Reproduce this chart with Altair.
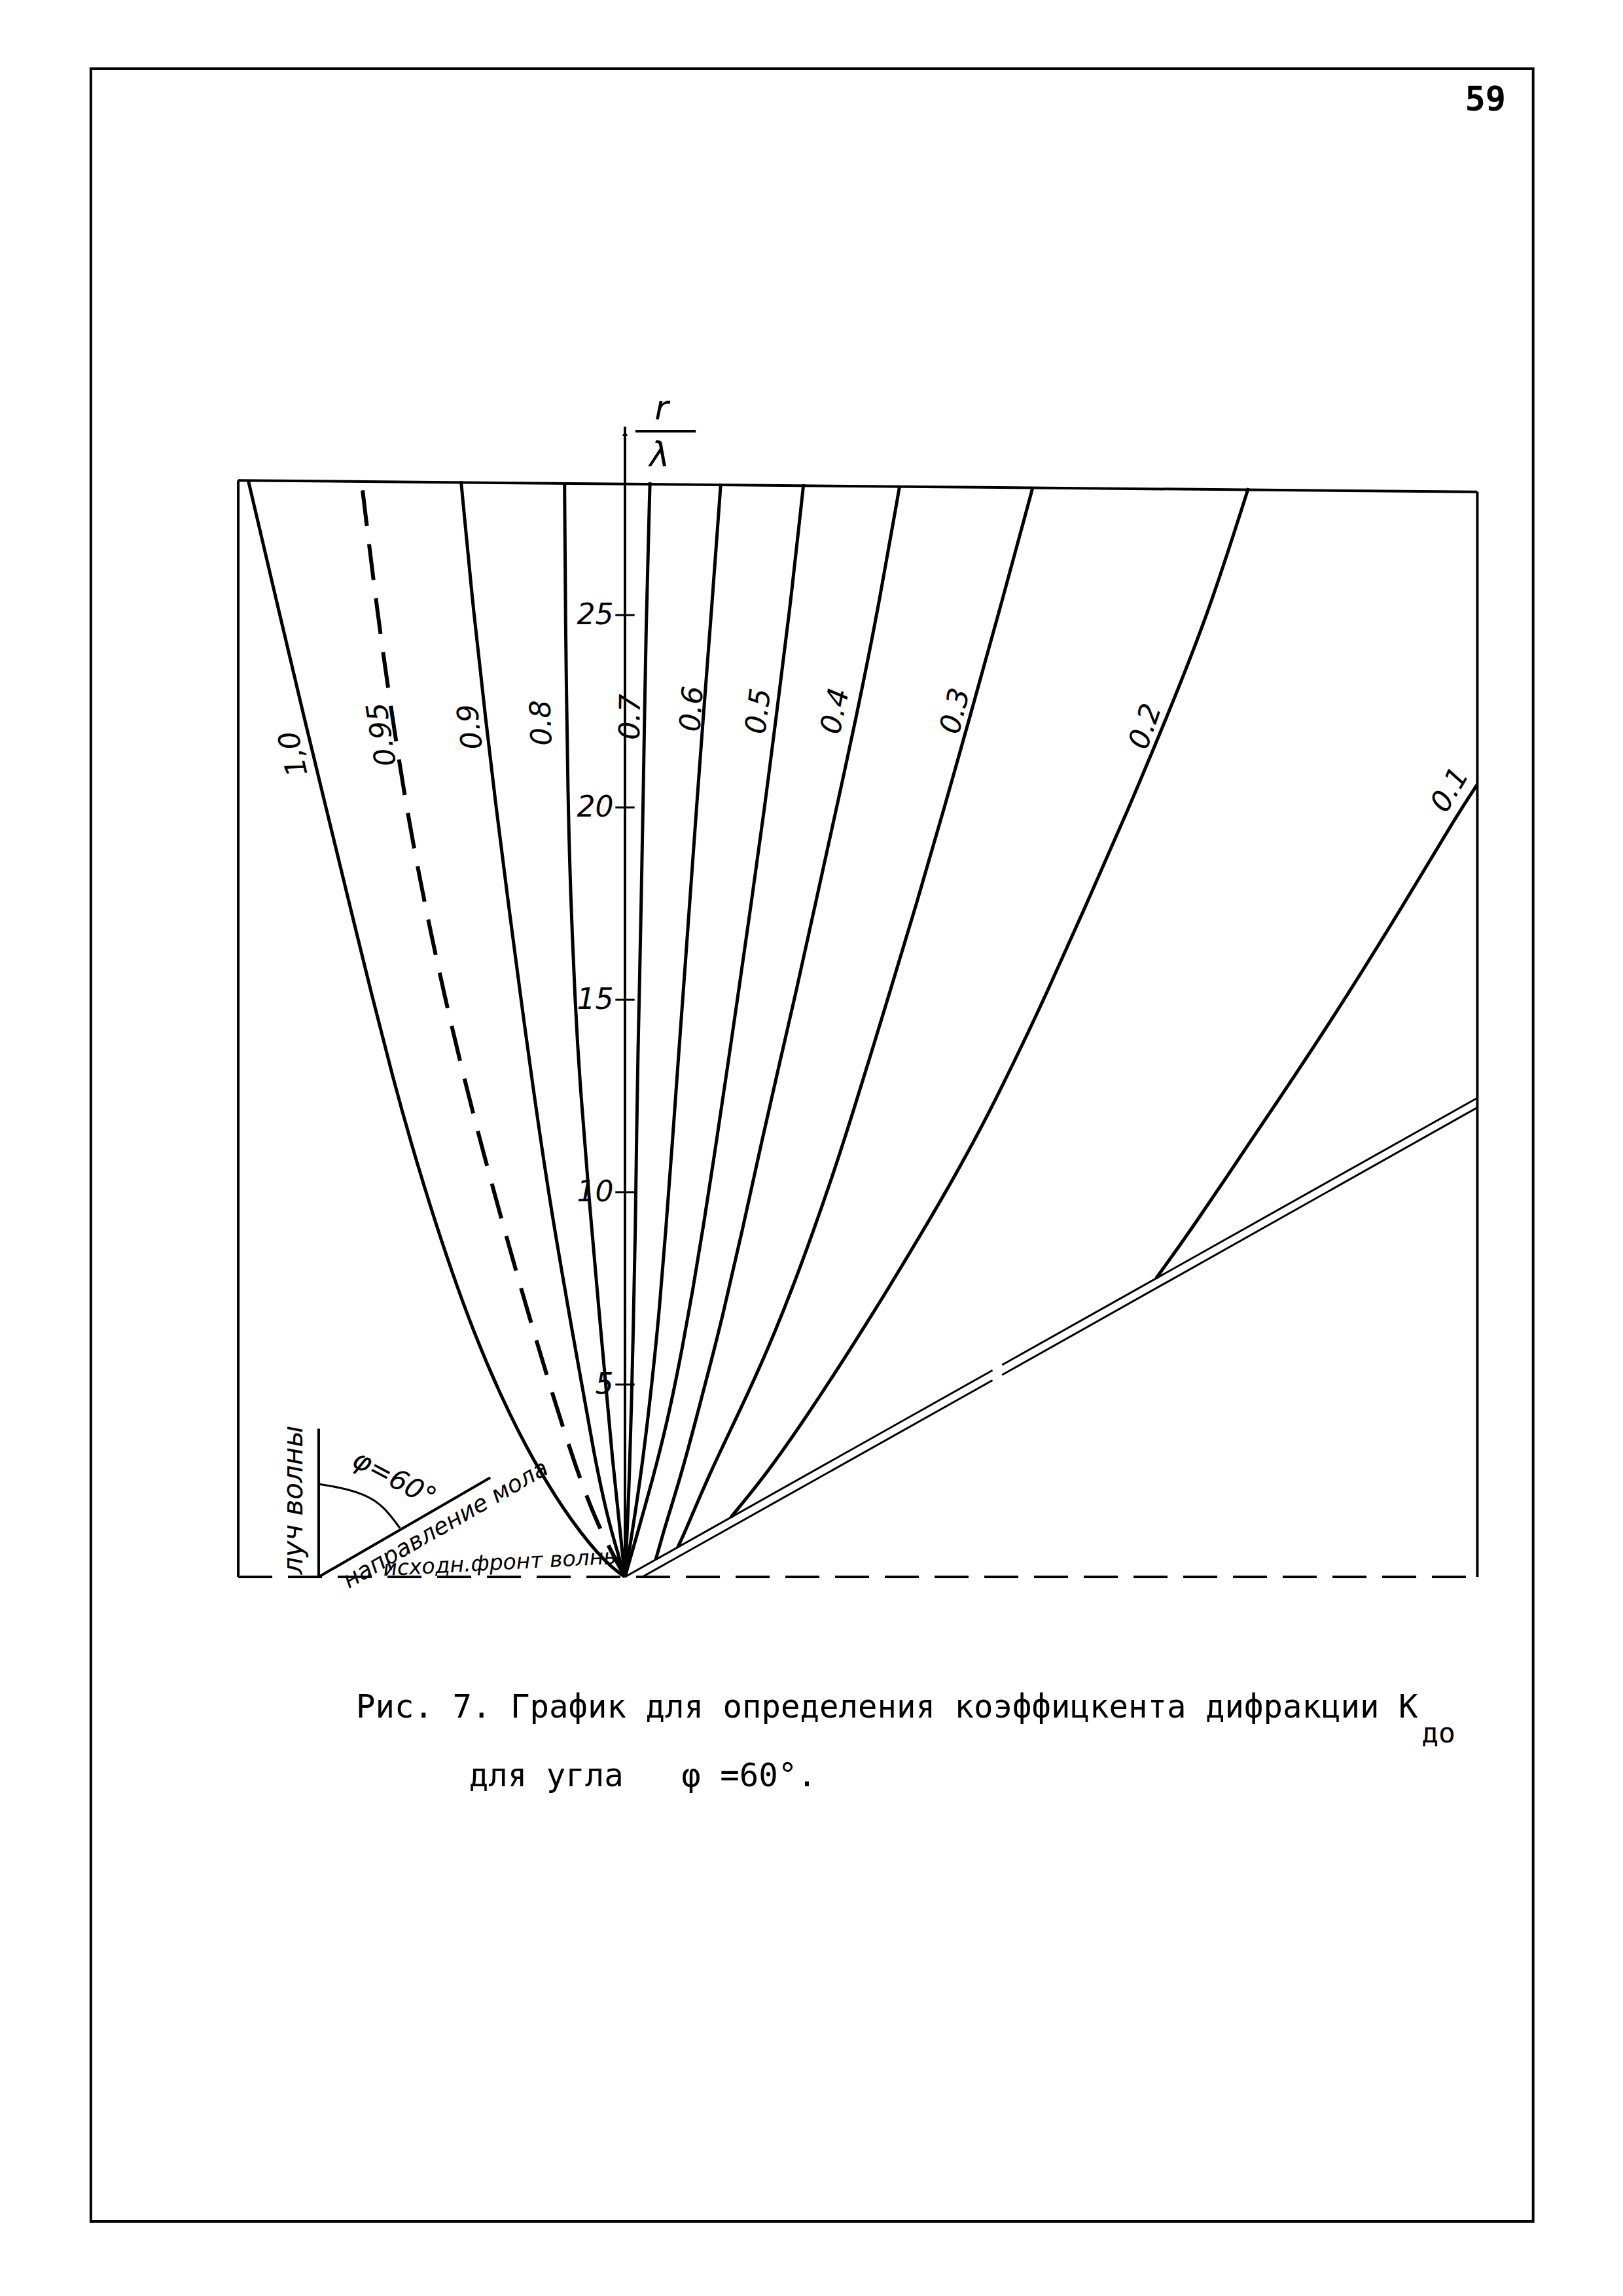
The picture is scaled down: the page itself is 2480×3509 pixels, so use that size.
import altair as alt
import pandas as pd

# ---------------- values ----------------
levels = ["1,0", "0.95", "0.9", "0.8", "0.7", "0.6", "0.5", "0.4", "0.3", "0.2", "0.1"]

k100_x = [0, -0.45, -1.36, -2.4, -3.22, -3.92, -4.52, -5.06, -5.56, -6.02, -6.55, -7.2, -7.77, -8.33, -8.97, -9.79]
k100_y = [0, 0.31, 1.38, 3.03, 4.68, 6.33, 7.98, 9.63, 11.28, 12.93, 15.0, 17.65, 20.0, 22.3, 25.0, 28.5]
k095_x = [0, -0.74, -1.34, -1.86, -2.36, -2.84, -3.3, -3.79, -4.17, -4.67, -5.24, -5.68, -6.04, -6.43, -6.85]
k095_y = [0, 1.38, 3.03, 4.68, 6.33, 7.98, 9.63, 11.44, 12.93, 15.0, 17.65, 20.0, 22.3, 25.0, 28.5]
k090_x = [0, -0.42, -0.78, -1.36, -1.94, -2.42, -2.7, -3.05, -3.35, -3.62, -3.93, -4.26]
k090_y = [0, 1.38, 3.03, 6.33, 9.63, 12.93, 15.0, 17.65, 20.0, 22.3, 25.0, 28.48]
k080_x = [0, -0.33, -0.62, -0.92, -1.18, -1.3, -1.41, -1.48, -1.55, -1.57]
k080_y = [0, 3.03, 6.33, 9.63, 12.93, 15.0, 17.65, 20.0, 25.0, 28.45]
k070_x = [0, 0.12, 0.22, 0.27, 0.3, 0.34, 0.37, 0.42, 0.47, 0.55, 0.65]
k070_y = [0, 2.5, 6.6, 9.0, 11.4, 13.8, 15.0, 17.5, 20.0, 25.0, 28.45]
k060_x = [0, 0.42, 0.72, 0.9, 1.06, 1.24, 1.41, 1.5, 1.68, 1.86, 2.03, 2.24, 2.49]
k060_y = [0, 2.6, 5.2, 7.0, 9.0, 11.4, 13.8, 15.0, 17.5, 20.0, 22.3, 25.0, 28.42]
k050_x = [0, 0.8, 1.18, 1.5, 1.77, 2.02, 2.39, 2.7, 2.92, 3.28, 3.63, 3.92, 4.27, 4.64]
k050_y = [0, 2.8, 4.4, 6.0, 7.5, 9.0, 11.4, 13.5, 15.0, 17.5, 20.0, 22.3, 25.0, 28.4]
k040_x = [0.8, 1.06, 1.45, 1.9, 2.25, 2.5, 3.05, 3.57, 4.05, 4.4, 4.95, 5.5, 5.98, 6.55, 7.14]
k040_y = [0.45, 1.38, 2.61, 4.3, 5.65, 6.62, 9.0, 11.4, 13.5, 15.0, 17.5, 20.0, 22.2, 25.0, 28.37]
k030_x = [1.37, 1.55, 2.2, 2.98, 3.75, 4.35, 4.9, 5.42, 5.9, 6.45, 6.82, 7.58, 8.3, 8.92, 9.7, 10.6]
k030_y = [0.77, 1.14, 2.7, 4.3, 6.0, 7.5, 9.0, 10.5, 12.0, 13.78, 15.0, 17.5, 20.0, 22.2, 25.0, 28.33]
k020_x = [2.75, 3.7, 4.78, 5.8, 6.78, 7.72, 8.62, 9.47, 10.3, 10.88, 12.0, 13.1, 14.02, 15.15, 16.2]
k020_y = [1.55, 2.7, 4.26, 5.83, 7.39, 8.95, 10.5, 12.07, 13.78, 15.0, 17.5, 20.0, 22.2, 25.0, 28.3]
k010_x = [13.8, 14.7, 16.3, 17.37, 18.7, 20.25, 21.62, 22.15]
k010_y = [7.76, 9.0, 11.39, 12.97, 15.0, 17.5, 19.8, 20.6]

# curve labels
lab_text = ["1,0", "0.95", "0.9", "0.8", "0.7", "0.6", "0.5", "0.4", "0.3", "0.2", "0.1"]
lab_x = [-8.6, -6.3, -4.0, -2.15, 0.16, 1.76, 3.49, 5.48, 8.6, 13.54, 21.45]
lab_y = [21.4, 21.9, 22.1, 22.2, 22.35, 22.56, 22.5, 22.5, 22.5, 22.1, 20.45]
lab_ang = [257, 261, 263, 268, 271, 274, 277, 282, 284, 289, 301]

# boundary (double) line, with its small break
dbl_seg = ["u1", "u1", "u2", "u2", "l1", "l1", "l2", "l2"]
dbl_x = [0, 9.55, 9.8, 22.15, 0.45, 9.55, 9.8, 22.15]
dbl_y = [0, 5.37, 5.51, 12.45, 0, 5.11, 5.25, 12.2]

# frame of the plot (left, top, right), y axis, fraction bar, wave ray, mole line
seg_x = [-10.05, -10.05, 22.15, 0.0, 0.27, -7.96, -7.96]
seg_y = [0.0, 28.5, 28.2, 0.0, 29.78, 0.0, 0.0]
seg_x2 = [-10.05, 22.15, 22.15, 0.0, 1.84, -7.96, -3.5]
seg_y2 = [28.5, 28.2, 0.0, 29.9, 29.78, 3.85, 2.58]

# dashed base line (initial wave front)
base_x = [-10.05]
base_x2 = [22.15]
base_y = [0.0]

# y axis ticks
tick_vals = [5, 10, 15, 20, 25]

# angle arc phi = 60 deg
arc_x = [-7.96, -7.42, -6.76, -6.27, -5.85]
arc_y = [2.41, 2.33, 2.15, 1.84, 1.27]

# page border
page_x, page_x2 = [-13.88], [23.6]
page_y, page_y2 = [39.2], [-16.75]

# ---------------- scales: the whole page in chart units ----------------
S = 58.8                 # pixels per unit
W, H = 2460, 3490
X_MIN = -947 / S
X_MAX = X_MIN + W / S
Y_MAX = 2402 / S
Y_MIN = Y_MAX - H / S
AXIS_POS = (0 - X_MIN) * S

xs = alt.Scale(domain=[X_MIN, X_MAX], nice=False, zero=False)
ys = alt.Scale(domain=[Y_MIN, Y_MAX], nice=False, zero=False)
yaxis = alt.Axis(values=tick_vals, offset=-AXIS_POS, domain=False, ticks=False,
                 tickSize=0, grid=False, labelFontSize=44, labelFontStyle="italic",
                 labelFont="DejaVu Sans", labelPadding=18, labelColor="black",
                 title=None)


def X(f="x"):
    return alt.X(f"{f}:Q", scale=xs, axis=None)


def Y(f="y"):
    return alt.Y(f"{f}:Q", scale=ys, axis=yaxis)


# ---------------- tables ----------------
curve_xy = [(k100_x, k100_y), (k095_x, k095_y), (k090_x, k090_y), (k080_x, k080_y),
            (k070_x, k070_y), (k060_x, k060_y), (k050_x, k050_y), (k040_x, k040_y),
            (k030_x, k030_y), (k020_x, k020_y), (k010_x, k010_y)]
rows = []
for lev, (cx, cy) in zip(levels, curve_xy):
    for i, (a, b) in enumerate(zip(cx, cy)):
        rows.append({"level": lev, "i": i, "x": a, "y": b})
curves = pd.DataFrame(rows)
solid_curves = curves[curves.level != "0.95"]
dash_curve = curves[curves.level == "0.95"]

labels = pd.DataFrame({"t": lab_text, "x": lab_x, "y": lab_y, "a": lab_ang})
dbl = pd.DataFrame({"seg": dbl_seg, "x": dbl_x, "y": dbl_y,
                    "i": list(range(len(dbl_x)))})
segs = pd.DataFrame({"x": seg_x, "y": seg_y, "x2": seg_x2, "y2": seg_y2})
base = pd.DataFrame({"x": base_x, "x2": base_x2, "y": base_y})
ticks = pd.DataFrame({"y": tick_vals})
arc = pd.DataFrame({"x": arc_x, "y": arc_y, "i": list(range(len(arc_x)))})
page = pd.DataFrame({"x": page_x, "x2": page_x2, "y": page_y, "y2": page_y2})

NB = "\u00a0"

# ---------------- layers ----------------
L = []
L.append(alt.Chart(page).mark_rect(filled=False, stroke="black", strokeWidth=4).encode(
    x=X(), x2="x2:Q", y=Y(), y2="y2:Q"))
L.append(alt.Chart(segs).mark_rule(color="black", strokeWidth=4).encode(
    x=X(), x2="x2:Q", y=Y(), y2="y2:Q"))
L.append(alt.Chart(base).mark_rule(color="black", strokeWidth=4, strokeDash=[52, 24]).encode(
    x=X(), x2="x2:Q", y=Y()))
L.append(alt.Chart(ticks).mark_rule(color="black", strokeWidth=3).encode(
    x=alt.X("a:Q", scale=xs, axis=None), x2="b:Q", y=Y()).transform_calculate(a="-0.25", b="0.25"))
L.append(alt.Chart(solid_curves).mark_line(color="black", strokeWidth=5,
                                           interpolate="basis").encode(
    x=X(), y=Y(), detail="level:N", order="i:Q"))
L.append(alt.Chart(dash_curve).mark_line(color="black", strokeWidth=6, strokeDash=[55, 28],
                                         interpolate="basis").encode(
    x=X(), y=Y(), detail="level:N", order="i:Q"))
L.append(alt.Chart(dbl).mark_line(color="black", strokeWidth=3).encode(
    x=X(), y=Y(), detail="seg:N", order="i:Q"))
L.append(alt.Chart(arc).mark_line(color="black", strokeWidth=3, interpolate="basis").encode(
    x=X(), y=Y(), order="i:Q"))
L.append(alt.Chart(pd.DataFrame({"x": [0.0], "y": [29.72]})).mark_point(
    shape="triangle-up", filled=True, color="black", size=70, opacity=1).encode(x=X(), y=Y()))

# curve labels
L.append(alt.Chart(labels).mark_text(font="DejaVu Sans", fontStyle="italic", fontSize=44,
                                     color="black", baseline="middle", align="center").encode(
    x=X(), y=Y(), text="t:N", angle=alt.Angle("a:Q", scale=None)))

# r / lambda
L.append(alt.Chart(pd.DataFrame({"x": [0.95, 0.9], "y": [30.35, 29.15], "t": ["r", "λ"]}))
         .mark_text(font="DejaVu Sans", fontStyle="italic", fontSize=52, color="black",
                    baseline="middle", align="center")
         .encode(x=X(), y=Y(), text="t:N"))

# annotations in the lower left corner
L.append(alt.Chart(pd.DataFrame({"x": [-8.6], "y": [2.0], "t": ["луч волны"]}))
         .mark_text(font="DejaVu Sans", fontStyle="italic", fontSize=42, color="black",
                    angle=270, baseline="middle", align="center")
         .encode(x=X(), y=Y(), text="t:N"))
L.append(alt.Chart(pd.DataFrame({"x": [-4.66], "y": [1.36], "t": ["направление мола"]}))
         .mark_text(font="DejaVu Sans", fontStyle="italic", fontSize=36, color="black",
                    angle=330, baseline="middle", align="center")
         .encode(x=X(), y=Y(), text="t:N"))
L.append(alt.Chart(pd.DataFrame({"x": [-3.2], "y": [0.36], "t": ["исходн.фронт волны"]}))
         .mark_text(font="DejaVu Sans", fontStyle="italic", fontSize=33, color="black",
                    angle=357, baseline="middle", align="center")
         .encode(x=X(), y=Y(), text="t:N"))
L.append(alt.Chart(pd.DataFrame({"x": [-6.0], "y": [2.55], "t": ["φ=60°"]}))
         .mark_text(font="DejaVu Sans", fontStyle="italic", fontSize=42, color="black",
                    angle=28, baseline="middle", align="center")
         .encode(x=X(), y=Y(), text="t:N"))

# caption (typewriter) and page number
L.append(alt.Chart(pd.DataFrame({"x": [-6.99, -4.05], "y": [-3.66, -5.44],
                                 "t": ["Рис. 7. График для определения коэффицкента дифракции К",
                                       "для угла" + NB * 3 + "φ =60°."]}))
         .mark_text(font="DejaVu Sans Mono", fontSize=49, color="black",
                    baseline="alphabetic", align="left")
         .encode(x=X(), y=Y(), text="t:N"))
L.append(alt.Chart(pd.DataFrame({"x": [20.7], "y": [-4.3], "t": ["до"]}))
         .mark_text(font="DejaVu Sans Mono", fontSize=43, color="black",
                    baseline="alphabetic", align="left")
         .encode(x=X(), y=Y(), text="t:N"))
L.append(alt.Chart(pd.DataFrame({"x": [22.36], "y": [38.38], "t": ["59"]}))
         .mark_text(font="DejaVu Sans Mono", fontSize=52, fontWeight="bold", color="black",
                    baseline="middle", align="center")
         .encode(x=X(), y=Y(), text="t:N"))

chart = alt.layer(*L).properties(
    width=W, height=H, padding=0, autosize="none", background="white"
).configure_view(stroke=None)

chart.save("out.html", embed_options={"renderer": "svg", "actions": False})
